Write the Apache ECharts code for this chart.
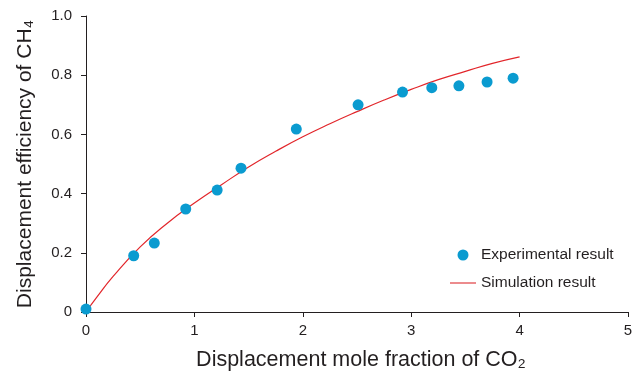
<!DOCTYPE html>
<html>
<head>
<meta charset="utf-8">
<script src="https://cdn.jsdelivr.net/npm/echarts@6/dist/echarts.min.js"></script>
<style>
  html, body { margin: 0; padding: 0; background: #fff; }
  #chart { width: 641px; height: 377px; }
</style>
</head>
<body>
<div id="chart"></div>
<script>
// experimental points (x = CO2 mole fraction, y = CH4 efficiency)
var expX = [0, 0.44, 0.63, 0.92, 1.21, 1.43, 1.94, 2.51, 2.92, 3.19, 3.44, 3.70, 3.94]
var expY = [0.01, 0.19, 0.233, 0.348, 0.412, 0.486, 0.618, 0.70, 0.743, 0.758, 0.764, 0.777, 0.79]
// simulation curve
var simX = [0, 0.1, 0.25, 0.5, 0.75, 1.0, 1.25, 1.5, 1.75, 2.0, 2.25, 2.5, 2.75, 3.0, 3.25, 3.5, 3.75, 4.0]
var simY = [0, 0.05, 0.12, 0.22, 0.30, 0.368, 0.43, 0.49, 0.543, 0.592, 0.636, 0.677, 0.716, 0.752, 0.785, 0.813, 0.84, 0.862]

var chart = echarts.init(document.getElementById('chart'))
var font = 'Liberation Sans, Arial, sans-serif'
var axisColor = '#231f20'

chart.setOption({
    animation: false,
    textStyle: { fontFamily: font },
    grid: { left: 86, right: 13, top: 16, bottom: 65, containLabel: false, outerBoundsMode: 'none' },
    legend: {
        orient: 'vertical',
        left: 445,
        top: 242,
        itemWidth: 26,
        itemHeight: 11,
        itemGap: 12,
        textStyle: { fontSize: 15.5, color: '#231f20', fontFamily: font },
        data: [
            { name: 'Experimental result', icon: 'circle' },
            { name: 'Simulation result', icon: 'path://M0,0H26V1.4H0Z', itemStyle: { color: '#e45a5c' } }
        ]
    },
    xAxis: {
        type: 'value',
        min: 0,
        max: 5,
        interval: 1,
        name: 'Displacement mole fraction of CO₂',
        nameLocation: 'middle',
        nameGap: 37,
        nameTextStyle: { fontSize: 21.5, color: '#231f20', fontFamily: font, padding: [0, 0, 0, 8] },
        axisLine: { lineStyle: { color: axisColor, width: 1 } },
        axisTick: { length: 5, lineStyle: { color: axisColor } },
        axisLabel: { fontSize: 15, color: '#231f20', margin: 11 },
        splitLine: { show: false }
    },
    yAxis: {
        type: 'value',
        min: 0,
        max: 1,
        interval: 0.2,
        name: 'Displacement efficiency of CH₄',
        nameLocation: 'middle',
        nameGap: 50,
        nameTextStyle: { fontSize: 21, color: '#231f20', fontFamily: font },
        axisLine: { show: true, lineStyle: { color: axisColor, width: 1 } },
        axisTick: { show: true, length: 5, lineStyle: { color: axisColor } },
        axisLabel: {
            fontSize: 15,
            color: '#231f20',
            margin: 14,
            formatter: function (v) { return v === 0 ? '0' : v.toFixed(1) }
        },
        splitLine: { show: false }
    },
    series: [
        {
            name: 'Experimental result',
            type: 'scatter',
            symbolSize: 11,
            z: 3,
            itemStyle: { color: '#0a9bd0', opacity: 1 },
            data: expX.map(function (x, i) { return [x, expY[i]] })
        },
        {
            name: 'Simulation result',
            type: 'line',
            smooth: true,
            symbol: 'none',
            z: 2,
            itemStyle: { color: '#e2262b' },
            lineStyle: { color: '#e2262b', width: 1.2 },
            data: simX.map(function (x, i) { return [x, simY[i]] })
        }
    ]
})
</script>
</body>
</html>
